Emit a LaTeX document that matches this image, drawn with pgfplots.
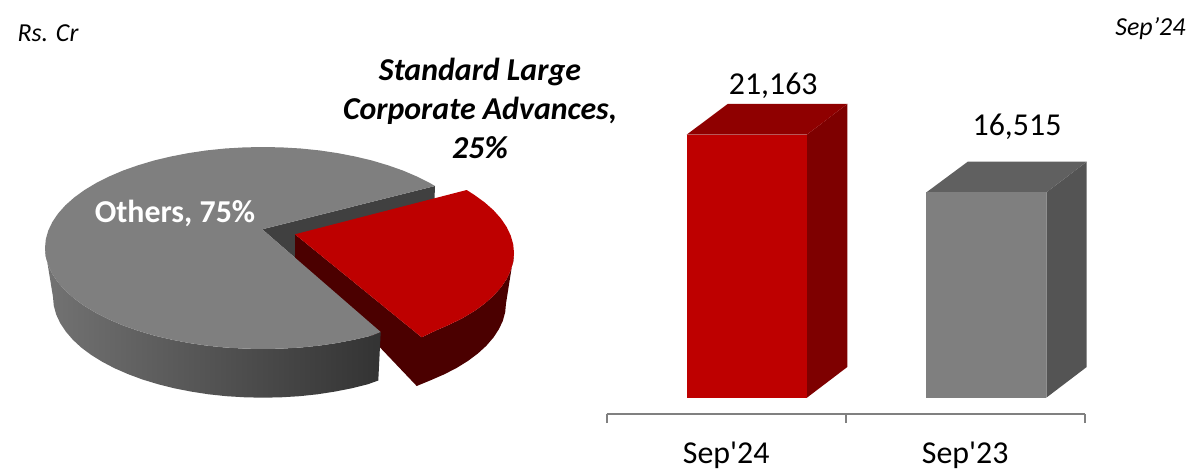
\documentclass[border=0pt]{standalone}
\usepackage{fontspec}
\setmainfont{Carlito}
\usepackage{pgfplots}
\pgfplotsset{compat=1.18}
\definecolor{rd}{HTML}{BE0000}
\definecolor{rdtop}{HTML}{8F0000}
\definecolor{rdside}{HTML}{7E0000}
\definecolor{rdwall}{HTML}{4B0000}
\definecolor{gr}{HTML}{7F7F7F}
\definecolor{grtop}{HTML}{606060}
\definecolor{grside}{HTML}{545454}
\definecolor{grwall}{HTML}{404040}
\newcommand{\fs}[1]{\fontsize{#1}{#1}\selectfont}
\begin{document}
\begin{tikzpicture}
\useasboundingbox (0,0) rectangle (1204bp,476bp);

% pie, in picture pixels
\begin{axis}[
    at={(0bp,0bp)}, anchor=south west,
    width=1204bp, height=476bp, scale only axis,
    xmin=0, xmax=1204, ymin=0, ymax=476, y dir=reverse,
    hide axis, clip=false,
    every axis plot/.append style={draw=none, no markers, forget plot},
]
% wall of the gap in the grey slice
\addplot[fill=grwall] coordinates {(262.3,229.3)(435,186)(434.5,199)(295,236)(295,257.7)} -- cycle;
% red slice walls
\addplot[fill=rdwall] coordinates {(295,234.3)(421.7,337.3)(436.1,330.4)(449.9,324.4)(463,317.9)(474.6,310.9)(484.8,303.5)(493.6,295.7)(500.9,287.5)(506.6,279.1)(510.7,270.5)(513.2,261.8)(514,253)
    (506,303.5)(505.2,312.2)(502.8,320.9)(498.8,329.4)(493.3,337.7)(486.3,345.8)(477.9,353.5)(468,360.9)(456.9,367.8)(444.5,374.2)(431,380.1)(416.7,386)(295,258)} -- cycle;
% grey side
\addplot[left color=black!55!white, right color=black!80!white] coordinates {(45,248)(45.8,256.8)(48.3,265.5)(52.4,274.1)(58.1,282.5)(65.4,290.7)(74.2,298.5)(84.4,305.9)(96,312.9)(108.9,319.4)(122.9,325.4)(138,330.7)(154,335.5)(170.9,339.5)(188.4,342.9)(206.6,345.6)(225.2,347.5)(244,348.6)(263,349)(282,348.6)(300.8,347.5)(319.4,345.6)(337.6,342.9)(355.1,339.5)(372,335.5)(380.7,332)
    (378.3,380.5)(368,384.2)(351.7,388.3)(334.8,391.6)(317.4,394.3)(299.5,396.2)(281.3,397.3)(263,397.7)(244.7,397.3)(226.5,396.2)(208.6,394.3)(191.2,391.6)(174.3,388.3)(158,384.2)(142.5,379.5)(128,374.1)(114.5,368.2)(102.1,361.7)(91,354.8)(81.1,347.4)(72.7,339.6)(65.7,331.4)(60.2,323.1)(56.2,314.5)(53.8,305.8)(53,297)} -- cycle;
% grey top
\addplot[fill=gr] coordinates {(262.3,229.3)(435,186)(430,183.1)(417.1,176.6)(403.1,170.6)(388,165.3)(372,160.5)(355.1,156.5)(337.6,153.1)(319.4,150.4)(300.8,148.5)(282,147.4)(263,147)(244,147.4)(225.2,148.5)(206.6,150.4)(188.4,153.1)(170.9,156.5)(154,160.5)(138,165.3)(122.9,170.6)(108.9,176.6)(96,183.1)(84.4,190.1)(74.2,197.5)(65.4,205.3)(58.1,213.5)(52.4,221.9)(48.3,230.5)(45.8,239.2)(45,248)(45.8,256.8)(48.3,265.5)(52.4,274.1)(58.1,282.5)(65.4,290.7)(74.2,298.5)(84.4,305.9)(96,312.9)(108.9,319.4)(122.9,325.4)(138,330.7)(154,335.5)(170.9,339.5)(188.4,342.9)(206.6,345.6)(225.2,347.5)(244,348.6)(263,349)(282,348.6)(300.8,347.5)(319.4,345.6)(337.6,342.9)(355.1,339.5)(372,335.5)(380.7,332)} -- cycle;
% red top
\addplot[fill=rd] coordinates {(295,234.3)(466.7,190)(474.6,195.1)(484.8,202.5)(493.6,210.3)(500.9,218.5)(506.6,226.9)(510.7,235.5)(513.2,244.2)(514,253)(513.2,261.8)(510.7,270.5)(506.6,279.1)(500.9,287.5)(493.6,295.7)(484.8,303.5)(474.6,310.9)(463,317.9)(449.9,324.4)(436.1,330.4)(421.7,337.3)} -- cycle;

\node[anchor=base, white, font=\fs{32}\bfseries] at (axis cs:175,222) {Others, 75\%};
\node[anchor=base, font=\fs{32}\bfseries\itshape] at (axis cs:480,81) {Standard Large};
\node[anchor=base, font=\fs{32}\bfseries\itshape] at (axis cs:480,119.5) {Corporate Advances,};
\node[anchor=base, font=\fs{32}\bfseries\itshape] at (axis cs:480,158) {25\%};
\node[anchor=base west, font=\fs{26}\itshape] at (axis cs:14,42) {Rs. Cr};
\node[anchor=base east, font=\fs{26}\itshape] at (axis cs:1189,36) {Sep’24};
\end{axis}

% bars
\begin{axis}[
    at={(606.7bp,62bp)}, anchor=south west,
    width=478bp, height=389.2bp, scale only axis,
    xmin=-0.5, xmax=1.5, ymin=-1311, ymax=30000,
    axis x line=bottom, axis y line=none, clip=false,
    x axis line style={-, draw=gray, line width=2bp},
    xtick={0,1}, xticklabels={Sep\textquotesingle 24, Sep\textquotesingle 23},
    minor xtick={-0.5,0.5,1.5},
    major tick length=0pt, minor tick length=9bp, tick align=outside,
    minor tick style={draw=gray, line width=1.8bp},
    xticklabel style={font=\fs{32}, anchor=base, yshift=-49bp},
    /pgf/number format/1000 sep={,},
    /pgf/number format/assume math mode=true,
    every axis plot/.append style={draw=none, no markers, forget plot},
]
\addplot[fill=rdside] coordinates {(0.3377,0)(0.5067,2470)(0.5067,23633)(0.3377,21163)} -- cycle;
\addplot[fill=rdtop] coordinates {(-0.1653,21163)(0.3377,21163)(0.5067,23633)(0.0063,23633)} -- cycle;
\addplot[fill=grside] coordinates {(1.3393,0)(1.5084,2470)(1.5084,18985)(1.3393,16515)} -- cycle;
\addplot[fill=grtop] coordinates {(0.8372,16515)(1.3393,16515)(1.5084,18985)(1.0105,18985)} -- cycle;
\addplot[ybar, bar width=120.2bp, bar shift=20.65bp, fill=rd, nodes near coords,
    nodes near coords style={font=\fs{32}, black, anchor=center, xshift=47bp, yshift=49bp}]
    coordinates {(0,21163)};
\addplot[ybar, bar width=120.2bp, bar shift=21.1bp, fill=gr, nodes near coords,
    nodes near coords style={font=\fs{32}, black, anchor=center, xshift=51.8bp, yshift=66bp}]
    coordinates {(1,16515)};
\end{axis}
\end{tikzpicture}
\end{document}
